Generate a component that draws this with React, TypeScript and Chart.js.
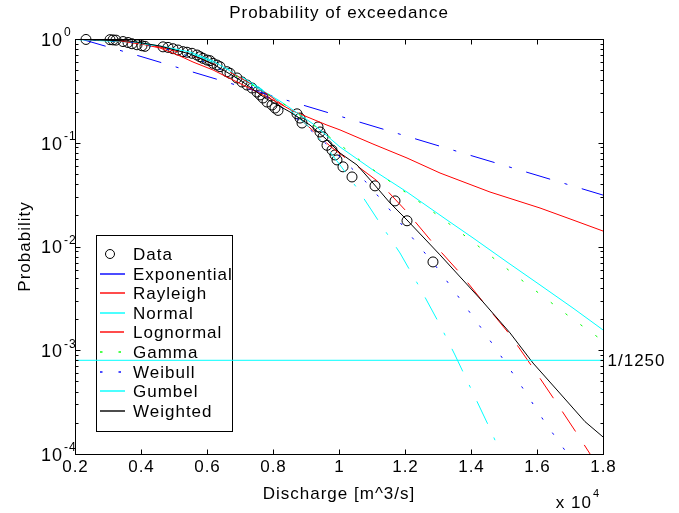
import React, { useEffect, useRef } from 'react';
import { Chart, registerables } from 'chart.js';
Chart.register(...registerables);

// ---------- data (discharge in m^3/s, probability of exceedance) ----------
const seriesNames = ['Data', 'Exponential', 'Rayleigh', 'Normal', 'Lognormal', 'Gamma', 'Weibull', 'Gumbel', 'Weighted'];

const dataQ = [2333, 3061, 3152, 3242, 3455, 3606, 3727, 3879, 4030, 4121, 4667, 4818, 4970, 5121, 5273, 5394, 5545, 5697, 5788, 5879, 6000, 6091, 6182, 6303, 6394, 6606, 6697, 6909, 7061, 7212, 7364, 7515, 7606, 7697, 7818, 7970, 8061, 8152, 8727, 8818, 8879, 9364, 9424, 9515, 9636, 9788, 9879, 9939, 10121, 10394, 11091, 11697, 12061, 12848];
const dataP = [0.99, 0.985, 0.98, 0.975, 0.945, 0.925, 0.9, 0.88, 0.86, 0.85, 0.84, 0.83, 0.806, 0.783, 0.755, 0.745, 0.728, 0.701, 0.675, 0.651, 0.627, 0.618, 0.583, 0.561, 0.541, 0.484, 0.467, 0.421, 0.385, 0.36, 0.337, 0.308, 0.289, 0.27, 0.247, 0.231, 0.216, 0.205, 0.19, 0.173, 0.155, 0.142, 0.127, 0.114, 0.0945, 0.085, 0.0763, 0.0683, 0.0586, 0.0468, 0.0384, 0.0275, 0.0177, 0.0071];

const expQ = [2200, 4000, 6000, 8000, 10000, 12000, 14000, 16000, 18000];
const expP = [0.995, 0.678, 0.437, 0.2815, 0.1814, 0.1169, 0.0753, 0.0486, 0.0313];

const rayQ = [2000, 2333, 3576, 4576, 5182, 5576, 6182, 6606, 7212, 8000, 8606, 9121, 9636, 10030, 11030, 12061, 13061, 14576, 16091, 17091, 18000];
const rayP = [0.995, 0.989, 0.957, 0.819, 0.686, 0.6, 0.503, 0.43, 0.345, 0.258, 0.202, 0.173, 0.148, 0.133, 0.0972, 0.0713, 0.0511, 0.0335, 0.0235, 0.018, 0.0141];

const normQ = [2000, 3667, 4576, 5485, 6182, 6697, 7212, 7758, 8212, 8606, 9212, 10030, 11030, 12061, 13273, 14061, 15091, 16091, 17091, 18000];
const normP = [0.989, 0.936, 0.856, 0.749, 0.614, 0.492, 0.385, 0.308, 0.252, 0.207, 0.152, 0.091, 0.0546, 0.0335, 0.018, 0.0121, 0.00709, 0.00426, 0.00255, 0.00157];

const lognQ = [2000, 3364, 4576, 5788, 6697, 7606, 8515, 9121, 9727, 10273, 10636, 11242, 12061, 12848, 13667, 14394, 15182, 15879, 16576, 17242, 17667, 18000];
const lognP = [0.995, 0.957, 0.837, 0.656, 0.481, 0.33, 0.207, 0.139, 0.093, 0.0683, 0.0571, 0.0409, 0.0215, 0.0108, 0.00555, 0.00285, 0.00141, 0.000675, 0.000317, 0.000152, 0.0000936, 0.0000656];

const gamQ = [2000, 3667, 4879, 5788, 6697, 7606, 8515, 9424, 10242, 10697, 12515, 13424, 14333, 15212, 16091, 17000, 18000];
const gamP = [0.995, 0.936, 0.783, 0.628, 0.47, 0.33, 0.216, 0.133, 0.0851, 0.0653, 0.0258, 0.0158, 0.00946, 0.00568, 0.00348, 0.00209, 0.00123];

const weibQ = [2000, 3667, 4879, 5788, 6697, 7606, 8515, 9424, 10030, 10848, 11545, 12303, 13000, 13667, 14333, 14970, 15606, 16212, 16879, 17152];
const weibP = [0.995, 0.936, 0.783, 0.628, 0.46, 0.308, 0.1935, 0.1111, 0.0729, 0.0409, 0.0225, 0.0113, 0.00607, 0.00312, 0.0016, 0.000824, 0.000414, 0.000208, 0.000105, 0.0000783];

const gumQ = [2000, 3667, 4879, 5788, 6697, 7606, 8515, 9121, 9515, 10030, 10545, 11242, 11848, 12455, 13061, 13515, 14061, 14606, 14879, 15030];
const gumP = [0.995, 0.957, 0.819, 0.671, 0.503, 0.337, 0.207, 0.139, 0.0995, 0.0611, 0.0366, 0.0168, 0.00866, 0.00398, 0.00175, 0.0009, 0.000387, 0.000167, 0.000105, 0.0000783];

const wtdQ = [2000, 3667, 4576, 5485, 6182, 7000, 7758, 8515, 9121, 9576, 10030, 10545, 11030, 11545, 12061, 13061, 14364, 15182, 15879, 16606, 17455, 18000];
const wtdP = [0.995, 0.957, 0.856, 0.717, 0.574, 0.403, 0.27, 0.198, 0.148, 0.111, 0.0796, 0.0611, 0.0409, 0.0263, 0.018, 0.0083, 0.00292, 0.00147, 0.000753, 0.000414, 0.000205, 0.000146];

const limitQ = [2000, 18000];
const limitP = [0.0008, 0.0008];
const limitLabel = '1/1250';

const xTicks = [2000, 4000, 6000, 8000, 10000, 12000, 14000, 16000, 18000];
const xTickLabels = ['0.2', '0.4', '0.6', '0.8', '1', '1.2', '1.4', '1.6', '1.8'];
const yTicks = [0.0001, 0.001, 0.01, 0.1, 1];
const yTickExponents = ['-4', '-3', '-2', '-1', '0'];
const yMinorMultipliers = [2, 3, 4, 5, 6, 7, 8, 9];

const titleText = 'Probability of exceedance';
const xLabel = 'Discharge [m^3/s]';
const yLabel = 'Probability';

// ---------- styling ----------
const FONT = '"Liberation Sans", Arial, Helvetica, sans-serif';
const DASHDOT = [25, 15, 3, 15];
const DASHED = [24, 16];
const DOTTED = [2.5, 16];

// style per legend entry (index 0 = Data markers)
const seriesColors = ['#000000', '#0000ff', '#ff0000', '#00ffff', '#ff0000', '#00ff00', '#0000ff', '#00ffff', '#000000'];
const seriesDashes = [[], DASHDOT, [], [], DASHED, DOTTED, DOTTED, DASHDOT, []];

const pts = (xs: number[], ys: number[]) => xs.map((v, i) => ({ x: v, y: ys[i] }));

function lineSet(label: string, xs: number[], ys: number[], color: string, dash: number[], order: number) {
  return {
    label,
    data: pts(xs, ys),
    showLine: true,
    borderColor: color,
    backgroundColor: color,
    borderWidth: 1,
    borderDash: dash.slice(),
    pointRadius: 0,
    pointHoverRadius: 0,
    fill: false,
    tension: 0,
    order,
  };
}

function setFont(ctx: CanvasRenderingContext2D, size: number) {
  ctx.font = `${size}px ${FONT}`;
  (ctx as any).letterSpacing = '1px';
}

// horizontal legend sample (anti-aliased over two rows like the original)
function legendSample(ctx: CanvasRenderingContext2D, x0: number, x1: number, y: number, color: string, dash: number[]) {
  ctx.fillStyle = color;
  const h = 1.4;
  if (!dash.length) {
    ctx.fillRect(x0, y - h / 2, x1 - x0, h);
    return;
  }
  let x = x0;
  let k = 0;
  while (x < x1) {
    const len = dash[k % dash.length];
    if (k % 2 === 0) ctx.fillRect(x, y - h / 2, Math.min(len, x1 - x), h);
    x += len;
    k += 1;
  }
}

const legendPlugin = {
  id: 'matlabLegend',
  beforeDatasetsDraw(chart: any) {
    const ctx: CanvasRenderingContext2D = chart.ctx;
    ctx.save();
    const lx0 = 96, ly0 = 235, lx1 = 232, ly1 = 431;
    ctx.fillStyle = '#ffffff';
    ctx.fillRect(lx0, ly0, lx1 - lx0, ly1 - ly0);
    ctx.strokeStyle = '#000000';
    ctx.lineWidth = 1;
    ctx.setLineDash([]);
    ctx.strokeRect(lx0 + 0.5, ly0 + 0.5, lx1 - lx0, ly1 - ly0);
    seriesNames.forEach((name, i) => {
      const yy = Math.round(254 + i * 19.6);
      if (i === 0) {
        ctx.strokeStyle = seriesColors[0];
        ctx.beginPath();
        ctx.arc(110, yy, 4.5, 0, Math.PI * 2);
        ctx.stroke();
      } else {
        legendSample(ctx, 100, 125, yy, seriesColors[i], seriesDashes[i]);
      }
      ctx.fillStyle = '#000000';
      setFont(ctx, 17);
      ctx.textAlign = 'left';
      ctx.textBaseline = 'middle';
      ctx.fillText(name, 133, yy + 1);
    });
    ctx.restore();
  },
};

const axesPlugin = {
  id: 'matlabAxes',
  afterDraw(chart: any) {
    const ctx: CanvasRenderingContext2D = chart.ctx;
    const { left, right, top, bottom } = chart.chartArea;
    const xs = chart.scales.x;
    const ys = chart.scales.y;
    ctx.save();
    ctx.setLineDash([]);
    ctx.strokeStyle = '#000000';
    ctx.lineWidth = 1;
    const L = Math.round(left) + 0.5, R = Math.round(right) + 0.5, T = Math.round(top) + 0.5, B = Math.round(bottom) + 0.5;
    ctx.strokeRect(L, T, R - L, B - T);

    ctx.beginPath();
    xTicks.forEach((v) => {
      const px = Math.round(xs.getPixelForValue(v)) + 0.5;
      ctx.moveTo(px, B); ctx.lineTo(px, B - 5);
      ctx.moveTo(px, T); ctx.lineTo(px, T + 5);
    });
    yTicks.forEach((v, i) => {
      const py = Math.round(ys.getPixelForValue(v)) + 0.5;
      ctx.moveTo(L, py); ctx.lineTo(L + 5, py);
      ctx.moveTo(R, py); ctx.lineTo(R - 5, py);
      if (i < yTicks.length - 1) {
        yMinorMultipliers.forEach((m) => {
          const pm = Math.round(ys.getPixelForValue(v * m)) + 0.5;
          ctx.moveTo(L, pm); ctx.lineTo(L + 3, pm);
          ctx.moveTo(R, pm); ctx.lineTo(R - 3, pm);
        });
      }
    });
    ctx.stroke();

    ctx.fillStyle = '#000000';
    setFont(ctx, 17);
    ctx.textAlign = 'center';
    ctx.textBaseline = 'middle';
    xTicks.forEach((v, i) => {
      ctx.fillText(xTickLabels[i], xs.getPixelForValue(v) + 0.5, 467);
    });
    yTicks.forEach((v, i) => {
      const py = ys.getPixelForValue(v);
      setFont(ctx, 18);
      ctx.textAlign = 'right';
      ctx.textBaseline = 'middle';
      ctx.fillText('10', 63, py + 2);
      setFont(ctx, 12);
      ctx.textAlign = 'left';
      ctx.fillText(yTickExponents[i], 64, py - 6);
    });
    setFont(ctx, 17);
    ctx.textAlign = 'right';
    ctx.textBaseline = 'middle';
    ctx.fillText('x 10', 592, 503);
    setFont(ctx, 11);
    ctx.textAlign = 'left';
    ctx.fillText('4', 593, 494);

    setFont(ctx, 17);
    ctx.textAlign = 'center';
    ctx.textBaseline = 'middle';
    ctx.fillText(titleText, (left + right) / 2, 13);
    ctx.fillText(xLabel, (left + right) / 2, 494);
    ctx.save();
    ctx.translate(25, (top + bottom) / 2);
    ctx.rotate(-Math.PI / 2);
    ctx.fillText(yLabel, 0, 0);
    ctx.restore();

    ctx.textAlign = 'left';
    ctx.fillText(limitLabel, R + 4, ys.getPixelForValue(limitP[0]) + 1);
    ctx.restore();
  },
};

export default function App() {
  const ref = useRef<HTMLCanvasElement | null>(null);
  useEffect(() => {
    if (!ref.current) return;
    const lineSeries = [
      [expQ, expP], [rayQ, rayP], [normQ, normP], [lognQ, lognP],
      [gamQ, gamP], [weibQ, weibP], [gumQ, gumP], [wtdQ, wtdP],
    ];
    const datasets: any[] = [
      {
        label: seriesNames[0],
        data: pts(dataQ, dataP),
        showLine: false,
        pointStyle: 'circle',
        pointRadius: 5,
        pointHoverRadius: 5,
        pointBorderWidth: 1,
        pointBorderColor: '#000000',
        pointBackgroundColor: 'rgba(0,0,0,0)',
        borderColor: '#000000',
        clip: false,
        order: 20,
      },
      ...lineSeries.map(([q, p], k) =>
        lineSet(seriesNames[k + 1], q, p, seriesColors[k + 1], seriesDashes[k + 1], 19 - k)),
      lineSet(limitLabel, limitQ, limitP, '#00ffff', [], 1),
    ];
    const chart = new Chart(ref.current, {
      type: 'scatter',
      data: { datasets },
      options: {
        animation: false,
        responsive: false,
        devicePixelRatio: 1,
        layout: { padding: { left: 75, right: 76, top: 39, bottom: 59 } },
        scales: {
          x: { type: 'linear', min: 2000, max: 18000, display: false },
          y: { type: 'logarithmic', min: 0.0001, max: 1, display: false },
        },
        plugins: {
          legend: { display: false },
          tooltip: { enabled: false },
          title: { display: false },
        },
      },
      plugins: [legendPlugin, axesPlugin],
    } as any);
    return () => chart.destroy();
  }, []);
  return (
    <div style={{ position: 'fixed', left: 0, top: 0, width: 679, height: 513, background: '#fff' }}>
      <canvas ref={ref} width={679} height={513} style={{ display: 'block' }} />
    </div>
  );
}
